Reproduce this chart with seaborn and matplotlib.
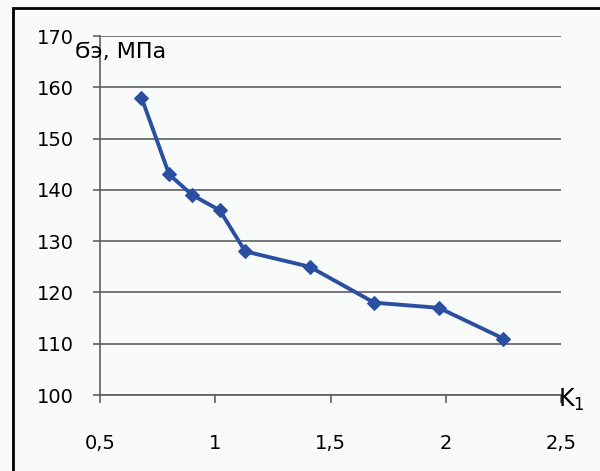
import matplotlib.pyplot as plt
import seaborn as sns
import pandas as pd
from matplotlib.patches import Rectangle

# values
k1 = [0.68, 0.80, 0.90, 1.02, 1.13, 1.41, 1.69, 1.97, 2.25]
sigma = [158, 143, 139, 136, 128, 125, 118, 117, 111]
x_ticks = [0.5, 1, 1.5, 2, 2.5]
x_tick_labels = ["0,5", "1", "1,5", "2", "2,5"]
y_ticks = [100, 110, 120, 130, 140, 150, 160, 170]

df = pd.DataFrame({"k1": k1, "sigma": sigma})

sns.set_style("white")
plt.rcParams['font.family'] = ['DejaVu Sans']
plt.rcParams['text.color'] = 'black'
plt.rcParams['xtick.color'] = 'black'
plt.rcParams['ytick.color'] = 'black'

bg = '#f9fafa'
grid_col = '#5e5e5e'
fig = plt.figure(figsize=(6, 4.71), dpi=100, facecolor=bg)
ax = fig.add_axes([100 / 600, 1 - 395 / 471, 461 / 600, 359 / 471])
ax.set_facecolor(bg)

sns.lineplot(data=df, x="k1", y="sigma", ax=ax, color='#2a4fa0', linewidth=2.8,
             marker='D', markersize=7.5, markeredgecolor='#2a4fa0', sort=False)

ax.set_xlim(0.5, 2.5)
ax.set_ylim(100, 170)
ax.set_xticks(x_ticks)
ax.set_xticklabels(x_tick_labels)
ax.set_yticks(y_ticks)
ax.yaxis.grid(True, color=grid_col, linewidth=1.2)
ax.xaxis.grid(False)
ax.set_xlabel("")
ax.set_ylabel("")

for side in ['top', 'right']:
    ax.spines[side].set_visible(False)
for side in ['left', 'bottom']:
    ax.spines[side].set_color(grid_col)
    ax.spines[side].set_linewidth(1.2)

ax.tick_params(axis='y', direction='out', length=5, width=1.2, color=grid_col,
               pad=14, labelsize=14, left=True)
ax.tick_params(axis='x', direction='out', length=6, width=1.2, color=grid_col,
               pad=22, labelsize=14, bottom=True)

fig.text(75 / 600, 1 - 52 / 471, "Ϭэ, МПа", fontsize=16, va='center', ha='left')
fig.text(558 / 600, 1 - 400 / 471, "K$_1$", fontsize=17, va='center', ha='left')

# outer chart frame (only left and top edges inside the image)
fig.add_artist(Rectangle((13 / 600, -0.1), 1.2, 1.1 - 8 / 471, transform=fig.transFigure,
                         fill=False, edgecolor='black', linewidth=2))

plt.savefig("out.png", dpi=100, facecolor=bg)
plt.close()
